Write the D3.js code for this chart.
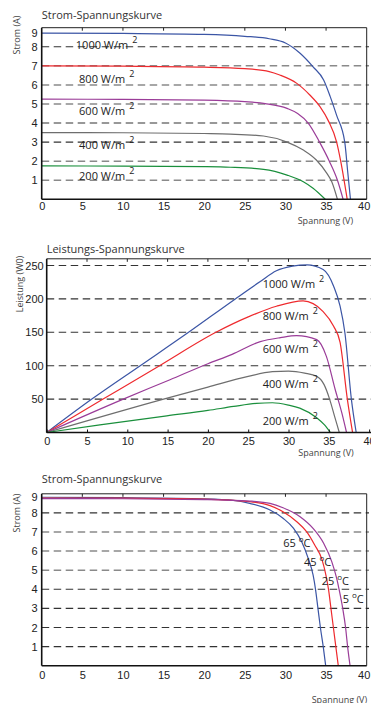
<!DOCTYPE html>
<html>
<head>
<meta charset="utf-8">
<script src="https://cdn.jsdelivr.net/npm/d3@7"></script>
<style>
  body { margin: 0; background: #fff; }
  svg { display: block; font-family: "Open Sans", sans-serif; }
</style>
</head>
<body>
<script>
// ---- data ----
const voltageTicks = [0, 5, 10, 15, 20, 25, 30, 35, 40];
const currentTicks = [1, 2, 3, 4, 5, 6, 7, 8, 9];
const powerTicks = [50, 100, 150, 200, 250];
const irradianceLabels = ["1000 W/m", "800 W/m", "600 W/m", "400 W/m", "200 W/m"];
const temperatureLabels = ["65 ", "45 ", "25 ", "5 "];

// current (A) vs voltage (V), by irradiance
const iv1000 = [[0, 8.72], [10, 8.7], [20, 8.65], [25, 8.55], [28, 8.42], [30, 8.2], [31.8, 7.66], [33.4, 6.95], [34.7, 6.26], [35.5, 5.4], [36.3, 4.4], [37.3, 3.0], [37.65, 1.5], [38.0, 0]];
const iv800 = [[0, 7.0], [10, 6.98], [20, 6.93], [25, 6.85], [28, 6.7], [29.3, 6.52], [31.4, 6.08], [33, 5.47], [34.25, 4.86], [35.3, 4.1], [36.3, 3.0], [36.8, 2.0], [37.6, 0]];
const iv600 = [[0, 5.25], [10, 5.24], [20, 5.2], [25, 5.12], [27.5, 5.02], [30.2, 4.77], [31.5, 4.5], [32.8, 4.0], [34.2, 3.0], [35.4, 2.0], [36.4, 1.0], [37.1, 0]];
const iv400 = [[0, 3.5], [10, 3.49], [20, 3.45], [23.2, 3.42], [27.3, 3.32], [30.2, 3.0], [32.2, 2.58], [33.8, 2.06], [35.1, 1.36], [35.7, 0.92], [36.4, 0]];
const iv200 = [[0, 1.75], [10, 1.74], [20, 1.71], [23.2, 1.68], [27.3, 1.57], [30.2, 1.27], [32.2, 0.92], [33.4, 0.58], [34.9, 0]];

// power (W) vs voltage (V), by irradiance
const pv1000 = [[0, 0], [5.6, 50], [11.6, 100], [17.6, 150], [23.4, 200], [26.5, 226], [28.5, 242], [30.5, 249], [32.3, 251], [34.3, 244], [35.6, 219], [36.4, 189], [37.0, 149], [37.8, 50], [38.4, 0]];
const pv800 = [[0, 0], [7, 50], [14, 100], [21, 150], [25, 173], [28.5, 189], [31.8, 197], [34.3, 181], [35.6, 159], [36.4, 135], [37.3, 50], [37.95, 0]];
const pv600 = [[0, 0], [9.5, 50], [15.3, 79], [20, 103], [23, 117], [26.5, 136], [29, 142], [31, 145], [33.5, 139], [34.7, 114], [35.8, 64], [36.6, 30], [37.2, 0]];
const pv400 = [[0, 0], [14.5, 50], [20, 68], [25, 84], [28, 91], [30, 92], [32, 89], [33.5, 84], [34.4, 72], [35.1, 50], [35.7, 25], [36.3, 0]];
const pv200 = [[0, 0], [6.6, 11.5], [14.9, 25], [20, 33], [23.2, 39], [26, 43.5], [28, 44.5], [30, 41], [31.4, 36.5], [33.5, 22], [34.5, 11], [35.2, 0]];

// current (A) vs voltage (V), by cell temperature
const ivT65 = [[0, 8.82], [10, 8.8], [20, 8.74], [23.6, 8.66], [25.6, 8.5], [28.1, 8.15], [29.7, 7.72], [31, 7.19], [32, 6.49], [32.8, 5.62], [33.4, 4.75], [33.7, 4.0], [34.0, 3.0], [34.3, 2.0], [34.65, 1.0], [34.95, 0]];
const ivT45 = [[0, 8.78], [10, 8.77], [20, 8.72], [25.6, 8.59], [28.1, 8.38], [29.7, 8.06], [31.4, 7.54], [32.6, 7.02], [33.6, 6.32], [34.5, 5.55], [35.0, 4.7], [35.3, 4.0], [35.6, 3.0], [35.9, 2.0], [36.2, 1.0], [36.5, 0]];
const ivT25 = [[0, 8.75], [10, 8.74], [20, 8.7], [25.6, 8.62], [28.1, 8.5], [29.7, 8.27], [31.8, 7.8], [33.4, 7.19], [34.7, 6.41], [35.7, 5.45], [36.3, 4.58], [36.6, 4.0], [37.05, 3.0], [37.4, 2.0], [37.65, 1.0], [37.95, 0]];

// ---- styles ----
const BLUE = "#3b55a5", RED = "#ee2a2e", PURPLE = "#9a3c98", GRAY = "#6e6e6e", GREEN = "#1a8f3c";
const DARK = "#333", LIGHT = "#8a8a8a";

const svg = d3.select("body").append("svg")
    .attr("width", 371)
    .attr("height", 703);

// draws one framed chart, returns its scales
function drawPanel(o) {
    const x = d3.scaleLinear().domain([0, 40]).range(o.xRange);
    const y = d3.scaleLinear().domain(o.yDomain).range(o.yRange);
    const g = svg.append("g");
    const top = y(o.yDomain[1]), bottom = y(0), left = x(0);

    // dashed grid lines
    g.selectAll(".grid")
        .data(o.grid)
        .enter()
        .append("line")
        .attr("x1", left)
        .attr("x2", o.gridEnd)
        .attr("y1", d => y(d))
        .attr("y2", d => y(d))
        .attr("stroke", (d, i) => o.gridColors[i] === "L" ? LIGHT : DARK)
        .attr("stroke-width", (d, i) => o.gridColors[i] === "L" ? 1.5 : 1.1)
        .attr("stroke-dasharray", "7.5,4.5");

    // top frame with inward ticks
    g.append("line")
        .attr("x1", left).attr("x2", o.topEnd)
        .attr("y1", top).attr("y2", top)
        .attr("stroke", "#222").attr("stroke-width", 1);
    g.selectAll(".ttick")
        .data(voltageTicks.filter(v => v > 0 && v < 40))
        .enter()
        .append("line")
        .attr("x1", d => x(d)).attr("x2", d => x(d))
        .attr("y1", top).attr("y2", top + 3)
        .attr("stroke", "#222");
    if (o.rightFrame) {
        g.append("line")
            .attr("x1", x(40)).attr("x2", x(40))
            .attr("y1", top).attr("y2", bottom)
            .attr("stroke", "#222").attr("stroke-width", 1);
    }

    // curves
    const line = d3.line()
        .x(d => x(d[0]))
        .y(d => y(d[1]))
        .curve(d3.curveMonotoneX);
    o.series.forEach((s, i) => {
        g.append("path")
            .attr("d", line(s))
            .attr("fill", "none")
            .attr("stroke", o.colors[i])
            .attr("stroke-width", 1.2);
    });

    // bottom axis
    const xa = g.append("g")
        .attr("transform", `translate(0,${bottom})`)
        .call(d3.axisBottom(x).tickValues(voltageTicks).tickSize(o.bottomTicks ? -3 : 0).tickPadding(o.xPad));
    xa.select(".domain").attr("stroke", "#111").attr("stroke-width", 1.6)
        .attr("d", `M${left},0H${o.axisEnd}`);
    xa.selectAll(".tick line").attr("stroke", "#111");
    xa.selectAll("text").attr("font-size", 11).attr("fill", "#222");
    if (o.lastLabelShift) {
        xa.selectAll(".tick").filter(d => d === 40)
            .select("text").attr("x", o.lastLabelShift);
    }

    // left axis
    const ya = g.append("g")
        .attr("transform", `translate(${left},0)`)
        .call(d3.axisLeft(y).tickValues(o.yTicks).tickSize(0).tickPadding(o.yPad));
    ya.select(".domain").attr("stroke", "#111").attr("stroke-width", 1.6)
        .attr("d", `M0,${top}V${bottom}`);
    ya.selectAll("text").attr("font-size", 11).attr("fill", "#222");
    if (o.topLabelShift) {
        ya.selectAll(".tick").filter(d => d === o.yDomain[1])
            .select("text").attr("y", o.topLabelShift);
    }

    // titles
    svg.append("text")
        .attr("x", left)
        .attr("y", o.titleY)
        .attr("font-size", 11)
        .attr("fill", "#333")
        .text(o.title);
    svg.append("text")
        .attr("x", o.xTitleX)
        .attr("y", o.xTitleY)
        .attr("font-size", 9)
        .attr("fill", "#444")
        .text("Spannung (V)");
    svg.append("text")
        .attr("transform", `translate(${o.yTitlePos[0]},${o.yTitlePos[1]}) rotate(-90)`)
        .attr("text-anchor", "middle")
        .attr("dy", "0.35em")
        .attr("font-size", 9)
        .attr("fill", "#444")
        .text(o.yTitle);

    return {x, y};
}

// annotation with a raised suffix (m² or °C)
function annotate(x, y, labels, anchors, sup, after) {
    labels.forEach((lab, i) => {
        const t = svg.append("text")
            .attr("x", x(anchors[i][0]))
            .attr("y", y(anchors[i][1]))
            .attr("font-size", 11)
            .attr("fill", "#222")
            .text(lab);
        t.append("tspan").attr("dx", sup.dx).attr("dy", sup.dy).attr("font-size", sup.size).text(sup.text);
        if (after) t.append("tspan").attr("dy", -sup.dy).attr("font-size", 11).text(after);
    });
}

// ---- 1: Strom-Spannungskurve (irradiance) ----
const p1 = drawPanel({
    xRange: [41.7, 366.7], yDomain: [0, 9], yRange: [199.3, 27.7],
    grid: [8, 7, 6, 5, 4, 3, 2, 1], gridColors: ["D", "L", "L", "L", "D", "D", "L", "L"],
    gridEnd: 369, topEnd: 366.7, axisEnd: 366.7, rightFrame: true, bottomTicks: false,
    yTicks: currentTicks, xPad: 3, yPad: 4, topLabelShift: 5.5, lastLabelShift: -3,
    series: [iv1000, iv800, iv600, iv400, iv200], colors: [BLUE, RED, PURPLE, GRAY, GREEN],
    title: "Strom-Spannungskurve", titleY: 18.5,
    xTitleX: 297.7, xTitleY: 224.3, yTitle: "Strom (A)", yTitlePos: [16.5, 35]
});
annotate(p1.x, p1.y, irradianceLabels,
    [[4.2, 7.87], [4.6, 6.09], [4.6, 4.41], [4.6, 2.66], [4.6, 1.0]],
    {text: "2", dx: 4, dy: -6, size: 9});

// ---- 2: Leistungs-Spannungskurve ----
const p2 = drawPanel({
    xRange: [46.7, 369.1], yDomain: [0, 260], yRange: [432.5, 258.8],
    grid: [250, 200, 150, 100, 50], gridColors: ["D", "D", "D", "D", "D"],
    gridEnd: 371, topEnd: 371, axisEnd: 371, rightFrame: false, bottomTicks: true,
    yTicks: powerTicks, xPad: 5, yPad: 3, topLabelShift: 0, lastLabelShift: 0,
    series: [pv1000, pv800, pv600, pv400, pv200], colors: [BLUE, RED, PURPLE, GRAY, GREEN],
    title: "Leistungs-Spannungskurve", titleY: 252.7,
    xTitleX: 298.3, xTitleY: 456, yTitle: "Leistung (W0)", yTitlePos: [20, 284]
});
annotate(p2.x, p2.y, irradianceLabels,
    [[26.8, 216], [26.8, 169], [26.8, 119], [26.8, 66], [26.8, 11]],
    {text: "2", dx: 4, dy: -6, size: 9});

// ---- 3: Strom-Spannungskurve (temperature) ----
const p3 = drawPanel({
    xRange: [41.7, 366.7], yDomain: [0, 9], yRange: [665.7, 493.8],
    grid: [8, 7, 6, 5, 4, 3, 2, 1], gridColors: ["D", "L", "L", "L", "D", "D", "D", "D"],
    gridEnd: 369, topEnd: 366.7, axisEnd: 366.7, rightFrame: true, bottomTicks: false,
    yTicks: currentTicks, xPad: 6, yPad: 4, topLabelShift: 3, lastLabelShift: -3,
    series: [ivT65, ivT45, ivT25], colors: [BLUE, RED, PURPLE],
    title: "Strom-Spannungskurve", titleY: 483,
    xTitleX: 311.7, xTitleY: 702.5, yTitle: "Strom (A)", yTitlePos: [16.5, 513]
});
annotate(p3.x, p3.y, temperatureLabels,
    [[29.74, 6.19], [32.28, 5.23], [34.46, 4.21], [37.05, 3.26]],
    {text: "o", dx: 0, dy: -5, size: 8}, "C");
</script>
</body>
</html>
